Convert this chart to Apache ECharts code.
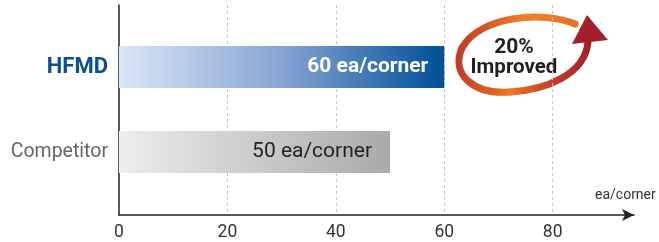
<!DOCTYPE html>
<html><head><meta charset="utf-8">
<script src="https://cdn.jsdelivr.net/npm/echarts@6/dist/echarts.min.js"></script>
<style>html,body{margin:0;padding:0;background:#fff}#c{width:659px;height:242px}</style>
</head><body><div id="c"></div>
<script>
const categories = ['HFMD', 'Competitor'];
const values = [60, 50];
const barLabels = ['60 ea/corner', '50 ea/corner'];
const xTicks = [0, 20, 40, 60, 80];
const unitName = 'ea/corner';
const badgeLines = ['20%', 'Improved'];

const chart = echarts.init(document.getElementById('c'), null, {renderer: 'canvas'});
const G = echarts.graphic;
const XMAX = 95;
const LEFT = 119, RIGHT = 25;
const styles = [
  {color: new G.LinearGradient(0,0,1,0,[{offset:0,color:'#d9e6f6'},{offset:0.5,color:'#87a4d3'},{offset:1,color:'#00509a'}]),
   label:{color:'#fff', fontWeight:'bold', fontFamily:'Roboto', fontSize:21, distance:16}},
  {color: new G.LinearGradient(0,0,1,0,[{offset:0,color:'#ededed'},{offset:1,color:'#a9a9a9'}]),
   label:{color:'#222', fontWeight:'normal', fontFamily:'Roboto', fontSize:21, distance:18}}
];
const ylabStyles = [
  {color:'#0a4f96', fontWeight:'bold', fontFamily:'Roboto', fontSize:22},
  {color:'#666', fontWeight:'normal', fontFamily:'Roboto', fontSize:19.5}
];
const gTop = new G.LinearGradient(458,0,578,0,[{offset:0,color:'#c13a2a'},{offset:0.55,color:'#f08024'},{offset:1,color:'#ea7028'}], true);
const gLeft = new G.LinearGradient(455,0,512,0,[{offset:0,color:'#c13a2a'},{offset:1,color:'#ec7624'}], true);
const gRight = new G.LinearGradient(510,0,590,0,[{offset:0,color:'#ec7624'},{offset:0.5,color:'#c8402a'},{offset:1,color:'#a31f2b'}], true);
const curves = [
  {p:[575,24, 545,11, 480,15, 462,48], w:7, g:gTop},
  {p:[462,48, 450,75, 475,95, 510,92], w:7, g:gLeft},
  {p:[510,92, 545,90, 585,75, 588,42], w:7, g:gRight}
];

chart.setOption({
  animation: false,
  grid: [
    {left:LEFT, right:RIGHT, top:5, bottom:26},
    {left:LEFT, right:RIGHT, top:24.5, bottom:47.5}
  ],
  xAxis: [
    {gridIndex:0, type:'value', min:0, max:XMAX, interval:20,
     axisLine:{show:true, lineStyle:{color:'#222', width:1.5}, symbol:['none','arrow'], symbolSize:[9,12]},
     axisTick:{show:false},
     axisLabel:{showMaxLabel:false, margin:9, color:'#333', fontFamily:'Roboto', fontSize:17.5,
       formatter: v => xTicks.includes(v) ? String(v) : ''},
     splitLine:{show:true, showMaxLine:false, showMinLine:false, lineStyle:{color:'#c4c4c4', type:[3,3], width:1}}
    },
    {gridIndex:1, type:'value', min:0, max:XMAX, show:false}
  ],
  yAxis: [
    {gridIndex:0, type:'value', min:0, max:1,
     axisLine:{show:true, onZero:false, lineStyle:{color:'#222', width:1.5}},
     axisTick:{show:false}, axisLabel:{show:false}, splitLine:{show:false}},
    {gridIndex:1, type:'category', inverse:true,
     data: categories.map((c,i)=>({value:c, textStyle:ylabStyles[i]})),
     axisLine:{show:false}, axisTick:{show:false}, splitLine:{show:false},
     axisLabel:{margin:11}}
  ],
  series: [{
    type:'bar', xAxisIndex:1, yAxisIndex:1, barWidth:42,
    data: values.map((v,i)=>({value:v, itemStyle:{color:styles[i].color},
      label:Object.assign({show:true, position:'insideRight', formatter: barLabels[i]}, styles[i].label)}))
  }],
  graphic: [
    {type:'text', left:595, top:188, style:{text:unitName, fill:'#333', font:'14px Roboto'}}
  ].concat(curves.map(c => ({type:'bezierCurve',
     shape:{x1:c.p[0],y1:c.p[1],cpx1:c.p[2],cpy1:c.p[3],cpx2:c.p[4],cpy2:c.p[5],x2:c.p[6],y2:c.p[7]},
     style:{fill:null, lineWidth:c.w, lineCap:'round', stroke:c.g}}))).concat([
    {type:'polygon', shape:{points:[[587,15],[572,44],[608,40]]}, style:{fill:'#a31f2b'}},
    {type:'text', x:514, y:47.5, style:{text:badgeLines[0], fill:'#231f20', font:'bold 21px Roboto', align:'center', verticalAlign:'middle'}},
    {type:'text', x:514, y:68, style:{text:badgeLines[1], fill:'#231f20', font:'bold 20.5px Roboto', align:'center', verticalAlign:'middle'}}
  ])
});
</script></body></html>
